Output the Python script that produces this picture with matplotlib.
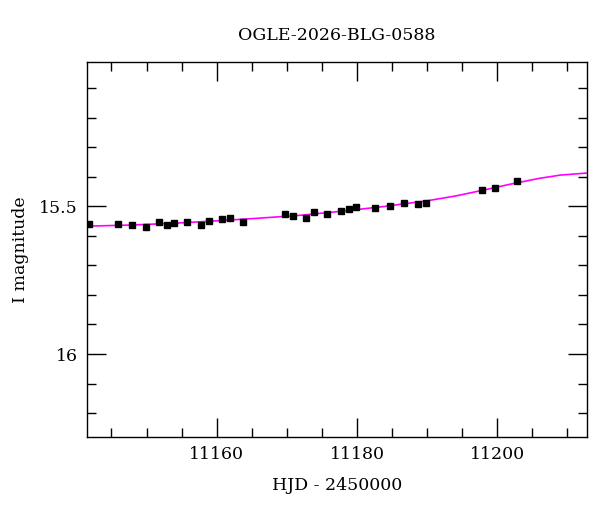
import matplotlib
matplotlib.use("Agg")
import matplotlib.pyplot as plt
from matplotlib.ticker import MultipleLocator

TITLE = "OGLE-2026-BLG-0588"

# photometry (HJD - 2450000, I mag, error)
hjd = [11141.8, 11145.9, 11147.9, 11149.9, 11151.8, 11152.9, 11153.9, 11155.8,
       11157.8, 11158.9, 11160.8, 11161.9, 11163.8, 11169.8, 11170.9, 11172.7,
       11173.9, 11175.7, 11177.7, 11178.9, 11179.9, 11182.6, 11184.7, 11186.7,
       11188.7, 11189.9, 11197.8, 11199.6, 11202.8]
mag = [15.559, 15.561, 15.562, 15.569, 15.552, 15.564, 15.557, 15.554,
       15.562, 15.551, 15.543, 15.541, 15.554, 15.527, 15.532, 15.541,
       15.520, 15.525, 15.514, 15.510, 15.502, 15.505, 15.498, 15.490,
       15.492, 15.490, 15.445, 15.437, 15.414]
err = [0.005, 0.004, 0.005, 0.005, 0.005, 0.005, 0.005, 0.004,
       0.005, 0.004, 0.004, 0.004, 0.009, 0.005, 0.005, 0.005,
       0.004, 0.004, 0.004, 0.004, 0.004, 0.004, 0.004, 0.004,
       0.004, 0.004, 0.004, 0.004, 0.004]

# model curve
model_t = [11141.6, 11148.0, 11154.0, 11160.0, 11166.0, 11172.0, 11178.0,
           11184.0, 11190.0, 11194.0, 11198.0, 11202.0, 11206.0, 11209.0,
           11212.8]
model_m = [15.567, 15.563, 15.557, 15.549, 15.540, 15.530, 15.516,
           15.500, 15.481, 15.465, 15.445, 15.424, 15.405, 15.394,
           15.387]

plt.rcParams['font.family'] = ['DejaVu Serif']

fig = plt.figure(figsize=(6.0, 5.12), dpi=100)
ax = fig.add_axes([0.1455, 0.1471, 0.9783 - 0.1455, 0.8789 - 0.1471])

ax.plot(model_t, model_m, color="#ff00ff", lw=1.2, zorder=2)
ax.errorbar(hjd, mag, yerr=err, fmt="s", color="black", ms=4.2,
            elinewidth=1.0, capsize=0, zorder=3)

ax.set_xlim(11141.56, 11212.78)
ax.set_ylim(16.28, 15.011)

ax.xaxis.set_major_locator(MultipleLocator(20))
ax.xaxis.set_minor_locator(MultipleLocator(5))
ax.yaxis.set_major_locator(MultipleLocator(0.5))
ax.yaxis.set_minor_locator(MultipleLocator(0.1))
ax.yaxis.set_major_formatter(plt.FuncFormatter(lambda v, p: f"{v:g}"))

ax.tick_params(which="both", direction="in", top=True, right=True,
               labelsize=12.5, width=1.0)
ax.tick_params(which="major", length=13.5, pad=7)
ax.tick_params(which="minor", length=6.8)
for s in ax.spines.values():
    s.set_linewidth(1.0)

ax.set_xlabel("HJD - 2450000", fontsize=12.5, labelpad=10)
ax.set_ylabel("I magnitude", fontsize=12.5, labelpad=7)
ax.set_title(TITLE, fontsize=12.5, pad=16)

fig.savefig("out.png", dpi=100)
